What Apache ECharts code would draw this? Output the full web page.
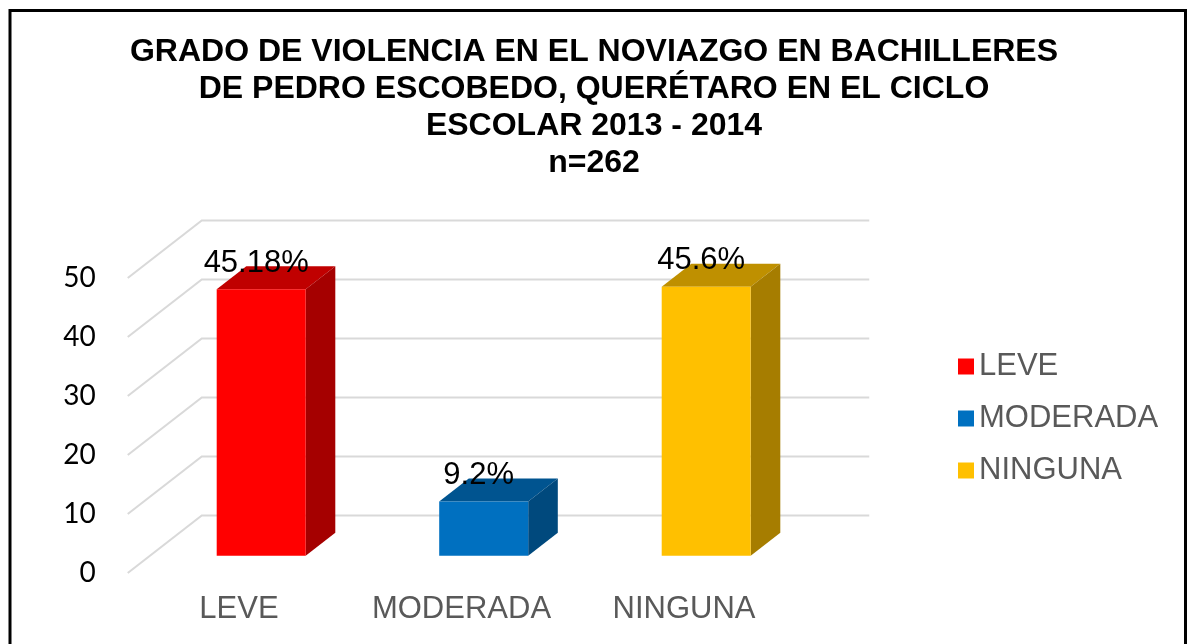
<!DOCTYPE html>
<html>
<head>
<meta charset="utf-8">
<script src="https://cdn.jsdelivr.net/npm/echarts@6/dist/echarts.min.js"></script>
<style>
  html, body { margin: 0; padding: 0; background: #fff; }
  #chart { width: 1188px; height: 644px; }
</style>
</head>
<body>
<div id="chart"></div>
<script>
// datos
const categories = ['LEVE', 'MODERADA', 'NINGUNA'];
const values = [45.18, 9.2, 45.6];
const valueLabels = ['45.18%', '9.2%', '45.6%'];
const yTicks = [0, 10, 20, 30, 40, 50];

const frontColors = ['#FF0000', '#0070C0', '#FFC000'];
const topColors = ['#C00000', '#005490', '#BF9000'];
const sideColors = ['#A50000', '#00497D', '#A67D00'];

// vector de profundidad (frente -> fondo)
const DEPTH_X = 74;
const DEPTH_Y = -57.5;

const chart = echarts.init(document.getElementById('chart'), null, { renderer: 'canvas' });

// paredes / lineas de cuadricula en perspectiva
function renderGrid(params, api) {
    const cs = params.coordSys;
    const p = api.coord([0, api.value(1)]);
    const left = cs.x;
    const right = cs.x + cs.width;
    return {
        type: 'polyline',
        shape: {
            points: [
                [left, p[1]],
                [left + DEPTH_X, p[1] + DEPTH_Y],
                [right + DEPTH_X, p[1] + DEPTH_Y]
            ]
        },
        style: { stroke: '#D9D9D9', lineWidth: 2, fill: null },
        silent: true
    };
}

// barra 3D: cara frontal, superior y lateral
function makeBarRenderer(i) {
    return function (params, api) {
        const base = api.coord([api.value(0), 0]);
        const top = api.coord([api.value(0), api.value(1)]);
        const hw = api.size([1, 0])[0] * 0.2;
        const ox = DEPTH_X * 0.3, oy = DEPTH_Y * 0.3;
        const dx = DEPTH_X * 0.4, dy = DEPTH_Y * 0.4;
        const fl = base[0] + ox - hw;
        const fr = base[0] + ox + hw;
        const by = base[1] + oy;
        const ty = top[1] + oy;
        return {
            type: 'group',
            children: [
                {
                    type: 'polygon',
                    shape: { points: [[fl, ty], [fr, ty], [fr + dx, ty + dy], [fl + dx, ty + dy]] },
                    style: { fill: topColors[i] }
                },
                {
                    type: 'polygon',
                    shape: { points: [[fr, ty], [fr, by], [fr + dx, by + dy], [fr + dx, ty + dy]] },
                    style: { fill: sideColors[i] }
                },
                {
                    type: 'rect',
                    shape: { x: fl, y: ty, width: fr - fl, height: by - ty },
                    style: { fill: frontColors[i] }
                },
                {
                    type: 'text',
                    x: base[0] + ox - 5,
                    y: ty - 26,
                    style: {
                        text: valueLabels[i],
                        fill: '#000',
                        font: '31px "Liberation Sans", Arial, sans-serif',
                        align: 'center',
                        verticalAlign: 'middle'
                    }
                }
            ]
        };
    };
}

const barSeries = categories.map((name, i) => ({
    name: name,
    type: 'custom',
    coordinateSystem: 'cartesian2d',
    renderItem: makeBarRenderer(i),
    itemStyle: { color: frontColors[i] },
    data: [[i, values[i]]],
    z: 3
}));

const option = {
    backgroundColor: '#fff',
    animation: false,
    title: {
        text: 'GRADO DE VIOLENCIA EN EL NOVIAZGO EN BACHILLERES\nDE PEDRO ESCOBEDO, QUERÉTARO EN EL CICLO\nESCOLAR 2013 - 2014\nn=262',
        left: 'center',
        top: 29,
        textStyle: {
            fontFamily: 'Liberation Sans',
            fontWeight: 'bold',
            fontSize: 32,
            lineHeight: 37,
            color: '#000'
        }
    },
    legend: {
        orient: 'vertical',
        left: 953,
        top: 346,
        icon: 'rect',
        itemWidth: 16,
        itemHeight: 16,
        itemGap: 21,
        data: categories,
        textStyle: {
            fontFamily: 'Liberation Sans',
            fontSize: 31,
            color: '#595959'
        }
    },
    grid: {
        left: 127.75,
        width: 667.5,
        top: 278,
        height: 295
    },
    xAxis: {
        type: 'category',
        data: categories,
        axisLine: { show: false },
        axisTick: { show: false },
        axisLabel: {
            interval: 0,
            fontFamily: 'Liberation Sans',
            fontSize: 31,
            color: '#595959',
            margin: 21
        }
    },
    yAxis: {
        type: 'value',
        min: 0,
        max: 50,
        interval: 10,
        splitLine: { show: false },
        axisLine: { show: false },
        axisTick: { show: false },
        axisLabel: {
            fontFamily: 'Lato',
            fontSize: 28,
            color: '#000',
            margin: 32
        }
    },
    graphic: [{
        type: 'rect',
        shape: { x: 10, y: 10.5, width: 1175.5, height: 700 },
        style: { fill: null, stroke: '#000', lineWidth: 3 },
        silent: true
    }],
    series: [{
        name: 'grid',
        type: 'custom',
        coordinateSystem: 'cartesian2d',
        renderItem: renderGrid,
        data: yTicks.map(v => [0, v]),
        z: 1,
        silent: true
    }].concat(barSeries)
};

chart.setOption(option);
</script>
</body>
</html>
